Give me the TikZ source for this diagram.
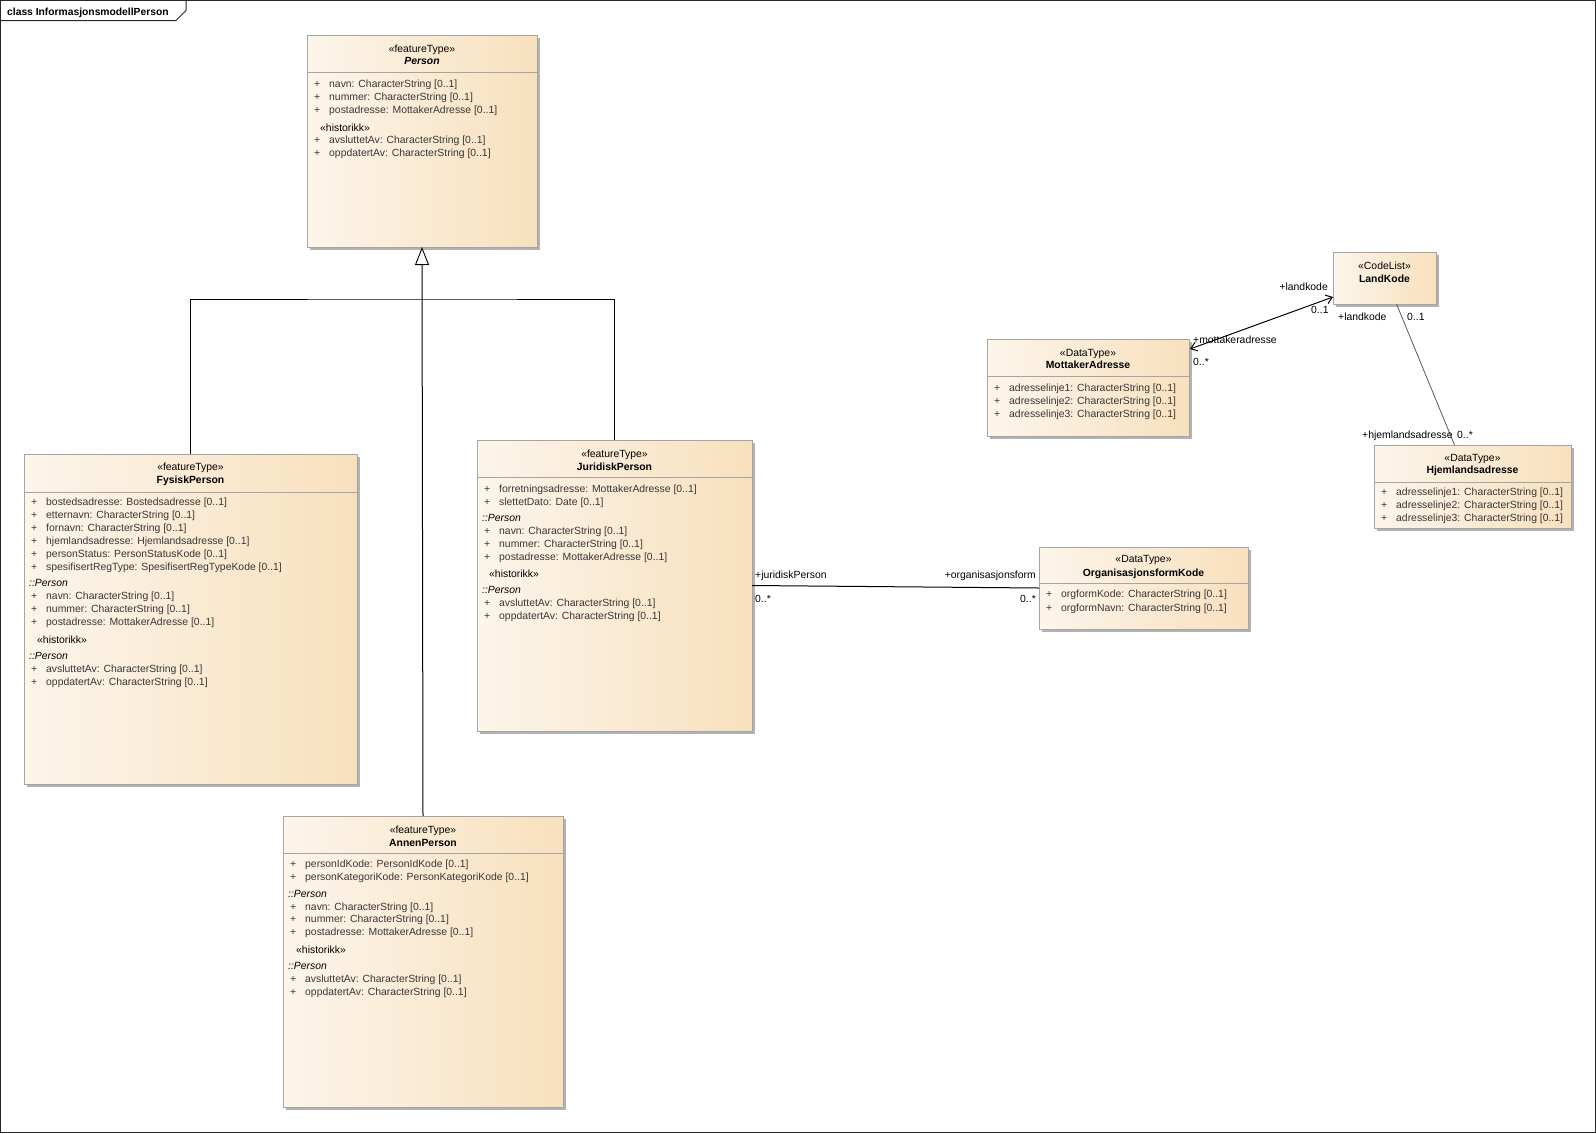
\documentclass[tikz,border=0pt]{standalone}
\usepackage{fontspec}
\setmainfont{Liberation Sans}
\usetikzlibrary{arrows.meta,shadows,calc}
\definecolor{boxL}{RGB}{252,245,235}
\definecolor{boxR}{RGB}{248,224,189}
\definecolor{boxline}{RGB}{165,165,165}
\definecolor{shadowc}{RGB}{178,178,178}
\definecolor{attrc}{RGB}{55,55,55}
\newcommand\umlsep[2]{\draw[sepline] ($(#1.north west)+(0,#2)$) -- ($(#1.north east)+(0,#2)$);}
\newcommand\umlattr[4]{\node[attr] (#1) at (#2,#3) {\makebox[15pt][l]{+}#4};}
\begin{document}
\begin{tikzpicture}[x=1pt,y=-1pt,
  font=\fontsize{10.4}{12}\selectfont,
  umlbox/.style={draw=boxline, line width=0.8pt, left color=boxL, right color=boxR,
    inner sep=0pt, outer sep=0pt, anchor=north west,
    drop shadow={shadow xshift=3pt, shadow yshift=-3pt, fill=shadowc, opacity=1}},
  sepline/.style={draw=boxline, line width=0.8pt},
  txt/.style={inner sep=0pt, text height=7.5pt, text depth=2pt, yshift=-1.5pt},
  stereo/.style={txt, anchor=center},
  cname/.style={txt, anchor=center, font=\fontsize{10.4}{12}\selectfont\bfseries},
  attr/.style={txt, anchor=west, text=attrc},
  inh/.style={txt, anchor=west, font=\fontsize{10.4}{12}\selectfont\itshape},
  hist/.style={txt, anchor=west},
  lblw/.style={txt, anchor=west},
  lble/.style={txt, anchor=east},
  genline/.style={draw=black, line width=1pt},
  assoc/.style={draw=black, line width=1pt},
  assocg/.style={draw=black!65, line width=0.8pt},
  frameline/.style={draw=black!85, line width=1pt}
]
\useasboundingbox (0,0) rectangle (1596,1133);
% frame
\draw[frameline] (0.5,0.5) rectangle (1595.5,1132.5);
\draw[frameline] (0.5,20.5) -- (176,20.5) -- (186,10.5) -- (186,0.5);
\node[txt, anchor=west, font=\fontsize{10.3}{12}\selectfont\bfseries] (title) at (7,11) {class InformasjonsmodellPerson};

% ---------- Person
\node[umlbox, minimum width=230pt, minimum height=212pt] (person) at (307,35) {};
\umlsep{person}{37}
\node[stereo] (p-st) at (422,48) {«featureType»};
\node[cname, font=\fontsize{10.4}{12}\selectfont\bfseries\itshape] (p-nm) at (422,60) {Person};
\umlattr{p-a1}{314}{83}{navn: CharacterString [0..1]}
\umlattr{p-a2}{314}{96}{nummer: CharacterString [0..1]}
\umlattr{p-a3}{314}{109}{postadresse: MottakerAdresse [0..1]}
\node[hist] (p-h) at (320,127) {«historikk»};
\umlattr{p-a4}{314}{139}{avsluttetAv: CharacterString [0..1]}
\umlattr{p-a5}{314}{152}{oppdatertAv: CharacterString [0..1]}

% ---------- FysiskPerson
\node[umlbox, minimum width=333pt, minimum height=330pt] (fp) at (24,454) {};
\umlsep{fp}{38}
\node[stereo] (fp-st) at (190.5,466) {«featureType»};
\node[cname] (fp-nm) at (190.5,479) {FysiskPerson};
\umlattr{fp-a1}{31}{501}{bostedsadresse: Bostedsadresse [0..1]}
\umlattr{fp-a2}{31}{514}{etternavn: CharacterString [0..1]}
\umlattr{fp-a3}{31}{527}{fornavn: CharacterString [0..1]}
\umlattr{fp-a4}{31}{540}{hjemlandsadresse: Hjemlandsadresse [0..1]}
\umlattr{fp-a5}{31}{553}{personStatus: PersonStatusKode [0..1]}
\umlattr{fp-a6}{31}{566}{spesifisertRegType: SpesifisertRegTypeKode [0..1]}
\node[inh] (fp-i1) at (29,582) {::Person};
\umlattr{fp-a7}{31}{595}{navn: CharacterString [0..1]}
\umlattr{fp-a8}{31}{608}{nummer: CharacterString [0..1]}
\umlattr{fp-a9}{31}{621}{postadresse: MottakerAdresse [0..1]}
\node[hist] (fp-h) at (37,639) {«historikk»};
\node[inh] (fp-i2) at (29,655) {::Person};
\umlattr{fp-a10}{31}{668}{avsluttetAv: CharacterString [0..1]}
\umlattr{fp-a11}{31}{681}{oppdatertAv: CharacterString [0..1]}

% ---------- JuridiskPerson
\node[umlbox, minimum width=275pt, minimum height=291pt] (jp) at (477,440) {};
\umlsep{jp}{37}
\node[stereo] (jp-st) at (614.5,453) {«featureType»};
\node[cname] (jp-nm) at (614.5,466) {JuridiskPerson};
\umlattr{jp-a1}{484}{488}{forretningsadresse: MottakerAdresse [0..1]}
\umlattr{jp-a2}{484}{501}{slettetDato: Date [0..1]}
\node[inh] (jp-i1) at (482,517) {::Person};
\umlattr{jp-a3}{484}{530}{navn: CharacterString [0..1]}
\umlattr{jp-a4}{484}{543}{nummer: CharacterString [0..1]}
\umlattr{jp-a5}{484}{556}{postadresse: MottakerAdresse [0..1]}
\node[hist] (jp-h) at (489,573) {«historikk»};
\node[inh] (jp-i2) at (482,589) {::Person};
\umlattr{jp-a6}{484}{602}{avsluttetAv: CharacterString [0..1]}
\umlattr{jp-a7}{484}{615}{oppdatertAv: CharacterString [0..1]}

% ---------- AnnenPerson
\node[umlbox, minimum width=280pt, minimum height=291pt] (an) at (283,816) {};
\umlsep{an}{37}
\node[stereo] (an-st) at (423,829) {«featureType»};
\node[cname] (an-nm) at (423,842) {AnnenPerson};
\umlattr{an-a1}{290}{863}{personIdKode: PersonIdKode [0..1]}
\umlattr{an-a2}{290}{876}{personKategoriKode: PersonKategoriKode [0..1]}
\node[inh] (an-i1) at (288,893) {::Person};
\umlattr{an-a3}{290}{906}{navn: CharacterString [0..1]}
\umlattr{an-a4}{290}{918}{nummer: CharacterString [0..1]}
\umlattr{an-a5}{290}{931}{postadresse: MottakerAdresse [0..1]}
\node[hist] (an-h) at (296,949) {«historikk»};
\node[inh] (an-i2) at (288,965) {::Person};
\umlattr{an-a6}{290}{978}{avsluttetAv: CharacterString [0..1]}
\umlattr{an-a7}{290}{991}{oppdatertAv: CharacterString [0..1]}

% ---------- LandKode
\node[umlbox, minimum width=103pt, minimum height=52pt] (lk) at (1333,252) {};
\node[stereo] (lk-st) at (1384.5,265) {«CodeList»};
\node[cname] (lk-nm) at (1384.5,278) {LandKode};

% ---------- MottakerAdresse
\node[umlbox, minimum width=202pt, minimum height=97pt] (ma) at (987,339) {};
\umlsep{ma}{37}
\node[stereo] (ma-st) at (1088,352) {«DataType»};
\node[cname] (ma-nm) at (1088,364) {MottakerAdresse};
\umlattr{ma-a1}{994}{387}{adresselinje1: CharacterString [0..1]}
\umlattr{ma-a2}{994}{400}{adresselinje2: CharacterString [0..1]}
\umlattr{ma-a3}{994}{413}{adresselinje3: CharacterString [0..1]}

% ---------- Hjemlandsadresse
\node[umlbox, minimum width=197pt, minimum height=83pt] (hj) at (1374,445) {};
\umlsep{hj}{37}
\node[stereo] (hj-st) at (1472.5,457) {«DataType»};
\node[cname] (hj-nm) at (1472.5,469) {Hjemlandsadresse};
\umlattr{hj-a1}{1381}{491}{adresselinje1: CharacterString [0..1]}
\umlattr{hj-a2}{1381}{504}{adresselinje2: CharacterString [0..1]}
\umlattr{hj-a3}{1381}{517}{adresselinje3: CharacterString [0..1]}

% ---------- OrganisasjonsformKode
\node[umlbox, minimum width=209pt, minimum height=82pt] (ok) at (1039,547) {};
\umlsep{ok}{36}
\node[stereo] (ok-st) at (1143.5,558) {«DataType»};
\node[cname] (ok-nm) at (1143.5,572) {OrganisasjonsformKode};
\umlattr{ok-a1}{1046}{593}{orgformKode: CharacterString [0..1]}
\umlattr{ok-a2}{1046}{607}{orgformNavn: CharacterString [0..1]}

% ---------- generalizations
\coordinate (gj) at (422,299);
\draw[genline, -{Triangle[open, length=18pt, width=14pt, line width=0.9pt]}] (an.north) -- (person.south);
\draw[genline] (fp.north) |- (gj) -| (jp.north);

% ---------- associations
\draw[assoc] (jp.east) -- (ok.west);
\node[lblw] (l-jp) at (755,574) {+juridiskPerson};
\node[lblw] (l-jpm) at (755,598) {0..*};
\node[lble] (l-of) at (1036,574) {+organisasjonsform};
\node[lble] (l-ofm) at (1036,598) {0..*};

\draw[assoc, {Straight Barb[length=6pt, width=9pt]}-{Straight Barb[length=6pt, width=9pt]}]
  ($(ma.north east)+(1,10)$) -- ($(lk.south west)+(0,-7)$);
\node[lble] (l-lk1) at (1328,286) {+landkode};
\node[lblw] (l-lk1m) at (1311,309) {0..1};
\node[lblw] (l-ma) at (1193,339) {+mottakeradresse};
\node[lblw] (l-mam) at (1193,361) {0..*};

\draw[assocg] ($(lk.south)+(12,0)$) -- ($(hj.north)+(-18,0)$);
\node[lblw] (l-lk2) at (1338,316) {+landkode};
\node[lblw] (l-lk2m) at (1407,316) {0..1};
\node[lblw] (l-hj) at (1362,434) {+hjemlandsadresse};
\node[lblw] (l-hjm) at (1457,434) {0..*};
\end{tikzpicture}
\end{document}
